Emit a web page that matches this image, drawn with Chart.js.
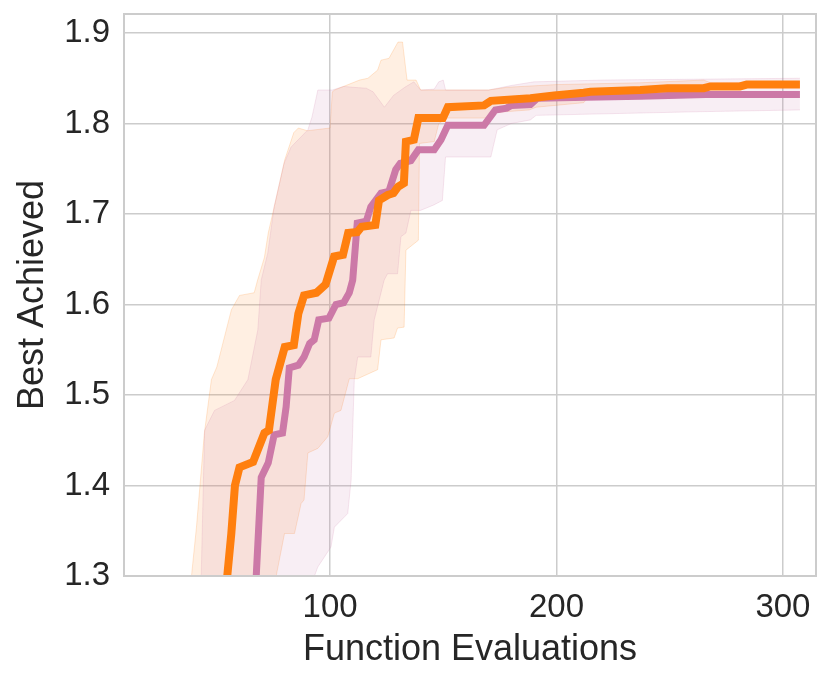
<!DOCTYPE html>
<html>
<head>
<meta charset="utf-8">
<script src="https://cdn.jsdelivr.net/npm/chart.js@4.4.1/dist/chart.umd.min.js"></script>
<style>
  html, body { margin: 0; padding: 0; background: #fff; }
  #wrap { width: 831px; height: 684px; }
</style>
</head>
<body>
<div id="wrap"><canvas id="myChart" width="831" height="684"></canvas></div>
<script>
// [function evaluations, best achieved]
const orangeMean = [[54.3,1.28],[54.6,1.30],[56.4,1.347],[58,1.40],[60,1.42],[66,1.426],[71,1.458],[73,1.461],[76,1.517],[80,1.553],[84,1.555],[86,1.59],[88.5,1.61],[94,1.613],[98,1.622],[101.8,1.653],[105.7,1.655],[108,1.679],[112,1.68],[114,1.686],[120,1.688],[121.6,1.715],[125.5,1.721],[128,1.723],[130,1.73],[132.6,1.734],[133.5,1.78],[137,1.782],[139,1.806],[149.8,1.806],[152,1.818],[168,1.82],[171,1.825],[188.5,1.828],[199,1.831],[212,1.834],[215,1.835],[237,1.837],[249,1.839],[265,1.839],[268,1.841],[281,1.841],[284,1.843],[307.5,1.843]];
const orangeUpper = [[38.8,1.30],[41,1.354],[44.5,1.458],[47.6,1.517],[50,1.531],[56.4,1.594],[60,1.61],[66.5,1.613],[68,1.627],[71,1.652],[72.7,1.679],[76,1.715],[80,1.76],[84,1.79],[86,1.795],[90,1.792],[100,1.795],[101,1.835],[102,1.837],[113,1.848],[116.7,1.85],[121,1.859],[122.5,1.87],[126,1.872],[130,1.89],[132,1.89],[134,1.848],[138,1.848],[140,1.837],[170,1.837],[178,1.840],[200,1.843],[237,1.845],[265,1.848],[268,1.845],[307.5,1.846]];
const orangeLower = [[38.8,1.10],[76.2,1.30],[79.9,1.347],[84.3,1.347],[87.2,1.38],[88.5,1.384],[90.2,1.436],[94.6,1.441],[99,1.454],[101.9,1.48],[104.8,1.483],[108.5,1.518],[112.2,1.518],[121,1.528],[122.5,1.561],[128.3,1.563],[129.8,1.574],[132.7,1.575],[133.5,1.66],[139,1.671],[139.5,1.778],[146,1.78],[148,1.80],[152,1.806],[170,1.806],[172,1.812],[188,1.815],[191,1.818],[212,1.823],[215,1.832],[237,1.835],[265,1.839],[268,1.840],[307.5,1.841]];

const purpleMean = [[67.2,1.28],[67.4,1.30],[69.6,1.409],[72.7,1.425],[75.3,1.456],[79,1.458],[80.6,1.487],[82,1.53],[86,1.533],[88.5,1.542],[91,1.557],[93,1.561],[95,1.583],[99.5,1.585],[102.6,1.60],[106,1.602],[108.5,1.613],[110,1.627],[112,1.69],[116,1.692],[118,1.708],[122.5,1.723],[126,1.725],[129,1.749],[131,1.756],[135.7,1.759],[139,1.771],[146,1.771],[149,1.782],[152,1.798],[168,1.798],[173,1.815],[178,1.817],[180,1.82],[188.5,1.821],[191.6,1.828],[213,1.829],[237,1.830],[266,1.832],[307.5,1.832]];
const purpleUpper = [[43.1,1.30],[44.6,1.461],[49,1.483],[57.8,1.494],[63.7,1.517],[68.1,1.572],[69.6,1.627],[72.5,1.657],[75.3,1.708],[79.7,1.756],[82.8,1.774],[90.2,1.793],[92,1.807],[94.6,1.837],[101,1.837],[106,1.841],[110,1.84],[116,1.839],[119,1.835],[124,1.818],[128,1.831],[133,1.84],[137,1.846],[140,1.837],[146,1.838],[148,1.846],[150,1.848],[151,1.837],[170,1.837],[180,1.842],[190,1.846],[220,1.848],[307.5,1.85]];
const purpleLower = [[43.1,1.10],[93.1,1.30],[94.6,1.31],[100.4,1.332],[101.9,1.354],[107.8,1.369],[109.3,1.406],[110.7,1.517],[112.2,1.542],[118,1.542],[119.5,1.583],[123.9,1.627],[125.4,1.634],[129.8,1.634],[131.3,1.675],[133.5,1.679],[135.7,1.704],[140,1.704],[145.8,1.71],[149.6,1.715],[151,1.763],[171,1.763],[173.8,1.793],[180,1.80],[188.5,1.804],[191,1.809],[262,1.813],[307.5,1.815]];

const xTicks = [100, 200, 300];
const yTicks = [1.3, 1.4, 1.5, 1.6, 1.7, 1.8, 1.9];

const ORANGE = '#ff7f0e';
const PURPLE = '#cc79a7';

const pts = arr => arr.map(p => ({ x: p[0], y: p[1] }));

// frame around the plot area (seaborn whitegrid look)
const frame = {
  id: 'frame',
  afterDraw(chart) {
    const a = chart.chartArea, ctx = chart.ctx;
    ctx.save();
    ctx.strokeStyle = '#cccccc';
    ctx.lineWidth = 2;
    ctx.strokeRect(a.left, a.top, a.right - a.left, a.bottom - a.top);
    ctx.restore();
  }
};

const ctx = document.getElementById('myChart').getContext('2d');
new Chart(ctx, {
  type: 'line',
  data: {
    datasets: [
      { data: pts(orangeMean), borderColor: ORANGE, borderWidth: 8, order: 0, fill: false },
      { data: pts(purpleMean), borderColor: PURPLE, borderWidth: 7, order: 1, fill: false },
      { data: pts(orangeUpper), borderColor: 'rgba(255,127,14,0.18)', borderWidth: 1, order: 3,
        fill: { target: 3 }, backgroundColor: 'rgba(255,127,14,0.12)' },
      { data: pts(orangeLower), borderColor: 'rgba(255,127,14,0.18)', borderWidth: 1, order: 3, fill: false },
      { data: pts(purpleUpper), borderColor: 'rgba(204,121,167,0.18)', borderWidth: 1, order: 2,
        fill: { target: 5 }, backgroundColor: 'rgba(204,121,167,0.13)' },
      { data: pts(purpleLower), borderColor: 'rgba(204,121,167,0.18)', borderWidth: 1, order: 2, fill: false }
    ]
  },
  options: {
    responsive: false,
    animation: false,
    devicePixelRatio: 1,
    layout: { padding: { top: 14, right: 15, left: 0, bottom: 0 } },
    elements: { point: { radius: 0 }, line: { tension: 0, borderCapStyle: 'butt' } },
    plugins: { legend: { display: false }, tooltip: { enabled: false } },
    scales: {
      x: {
        type: 'linear',
        min: 9,
        max: 314.6,
        afterBuildTicks: s => { s.ticks = xTicks.map(v => ({ value: v })); },
        afterFit: s => { s.height = 108; s.paddingLeft = 0; s.paddingRight = 0; },
        grid: { color: '#cccccc', lineWidth: 1.5, drawTicks: false },
        border: { display: false },
        ticks: { color: '#262626', padding: 12, font: { family: 'Liberation Sans, Arial', size: 33 } },
        title: { display: true, text: 'Function Evaluations', color: '#262626',
          font: { family: 'Liberation Sans, Arial', size: 36 }, padding: { top: 0, bottom: 12 } }
      },
      y: {
        min: 1.3,
        max: 1.921,
        afterBuildTicks: s => { s.ticks = yTicks.map(v => ({ value: v })); },
        afterFit: s => { s.width = 124; s.paddingTop = 0; s.paddingBottom = 0; },
        grid: { color: '#cccccc', lineWidth: 1.5, drawTicks: false },
        border: { display: false },
        ticks: { color: '#262626', padding: 14, font: { family: 'Liberation Sans, Arial', size: 33 },
          callback: v => v.toFixed(1) },
        title: { display: true, text: 'Best Achieved', color: '#262626',
          font: { family: 'Liberation Sans, Arial', size: 36 }, padding: { top: 11, bottom: 0 } }
      }
    }
  },
  plugins: [frame]
});
</script>
</body>
</html>
